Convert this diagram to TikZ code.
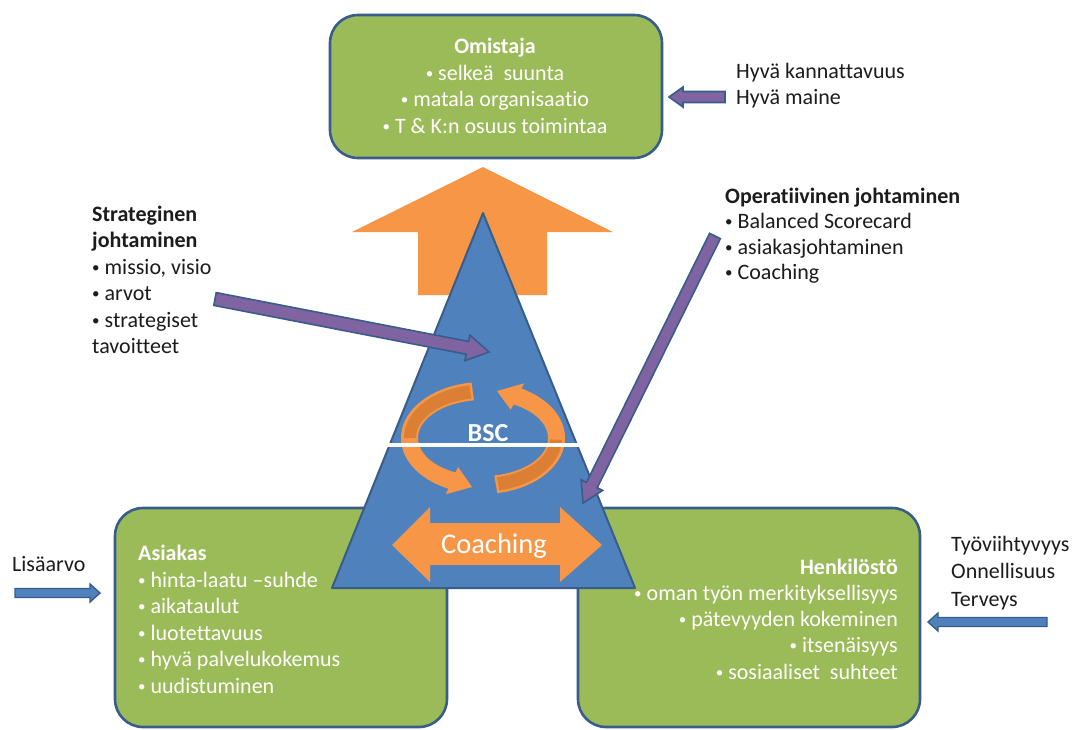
\documentclass[tikz,border=0pt]{standalone}
\usepackage{fontspec}
\setmainfont{Carlito}[Ligatures=NoCommon]
\usetikzlibrary{calc}

\definecolor{boxgreen}{HTML}{9BBB59}
\definecolor{edgeblue}{HTML}{385D8A}
\definecolor{triblue}{HTML}{4F81BD}
\definecolor{orng}{HTML}{F79646}
\definecolor{orngdark}{HTML}{DB7F35}
\definecolor{purp}{HTML}{8064A2}
\definecolor{ink}{HTML}{1C1C1C}

% small list bullet followed by a space
\newcommand\bl{\raisebox{1.8pt}{\fontsize{15}{15}\selectfont •}\space}

% block arrow from tail #2 to tip #3: half shaft width #4, half head width #5, head length #6
\newcommand\blockarrow[6]{%
  \coordinate (#2-hb) at ($(#3)!#6!(#2)$);
  \draw[#1] ($(#2)!#4!90:(#3)$) -- ($(#2-hb)!#4!90:(#3)$) -- ($(#2-hb)!#5!90:(#3)$)
    -- (#3) -- ($(#2-hb)!#5!-90:(#3)$) -- ($(#2-hb)!#4!-90:(#3)$)
    -- ($(#2)!#4!-90:(#3)$) -- cycle;
}

\begin{document}
\begin{tikzpicture}[x=1pt,y=-1pt,
  greenbox/.style={draw=edgeblue, fill=boxgreen, line width=2.6pt, rounded corners=28pt, inner sep=0pt},
  outtext/.style={font=\fontsize{22}{26.5}\selectfont, text=ink, align=left, inner sep=0pt},
  boxtext/.style={font=\fontsize{22}{26.5}\selectfont, text=white, inner sep=0pt},
  purplearrow/.style={fill=purp, draw=edgeblue, line width=1.6pt, line join=miter},
  bluearrow/.style={fill=triblue, draw=edgeblue, line width=1.4pt, line join=miter},
]
\useasboundingbox (0,0) rectangle (1076,729);
\fill[white] (0,0) rectangle (1076,729);

% big orange arrow pointing up to the owner
\fill[orng] (483,167) -- (613,232) -- (547,232) -- (547,295) -- (418,295) -- (418,232) -- (352,232) -- cycle;

% the three stakeholder boxes
\node[greenbox, minimum width=332pt, minimum height=143pt] (owner) at (496,86.5) {};
\node[greenbox, minimum width=332pt, minimum height=219pt] (client) at (281,617.5) {};
\node[greenbox, minimum width=342pt, minimum height=219pt] (staff) at (749,617.5) {};

% management pyramid
\draw[fill=triblue, draw=edgeblue, line width=2pt, line join=round] (483,213) -- (635,588) -- (332,588) -- cycle;

% BSC cycle arrows
\fill[orng] plot[domain=262:115, samples=50, variable=\t] ({483+82*cos(\t)},{438+56*sin(\t)})
  -- ({483+88*cos(115)},{438+62*sin(115)}) -- (472,487) -- ({483+59*cos(115)},{438+32*sin(115)})
  -- plot[domain=115:262, samples=50, variable=\t] ({483+65*cos(\t)},{438+38*sin(\t)}) -- cycle;
\fill[orng] plot[domain=80:-62, samples=50, variable=\t] ({483+82*cos(\t)},{438+56*sin(\t)})
  -- ({483+88*cos(-62)},{438+62*sin(-62)}) -- (497,391) -- ({483+59*cos(-62)},{438+32*sin(-62)})
  -- plot[domain=-62:80, samples=50, variable=\t] ({483+65*cos(\t)},{438+38*sin(\t)}) -- cycle;
\fill[orngdark] plot[domain=260:180, samples=40, variable=\t] ({483+79*cos(\t)},{438+53.5*sin(\t)})
  -- plot[domain=180:260, samples=40, variable=\t] ({483+67*cos(\t)},{438+40*sin(\t)}) -- cycle;
\fill[orngdark] plot[domain=78:2, samples=40, variable=\t] ({483+79*cos(\t)},{438+53.5*sin(\t)})
  -- plot[domain=2:78, samples=40, variable=\t] ({483+67*cos(\t)},{438+40*sin(\t)}) -- cycle;

% dividing line and label
\coordinate (bsc-l) at (387,445);
\coordinate (bsc-r) at (579,445);
\draw[white, line width=3.5pt] (bsc-l) -- (bsc-r);
\node[font=\fontsize{26}{30}\selectfont\bfseries, text=white, inner sep=0pt] (bsc) at (488,433.5) {BSC};

% coaching double arrow
\fill[orng] (392,545) -- (430,507) -- (430,523) -- (560,523) -- (560,507) -- (602,545)
  -- (560,582) -- (560,565) -- (430,565) -- (430,582) -- cycle;
\node[font=\fontsize{28.5}{32}\selectfont, text=white, inner sep=0pt, anchor=base] (coach) at (494,553) {Coaching};

% texts inside the boxes (base anchor = baseline of the last line)
\node[boxtext, anchor=base, align=center] (owner-text) at (495,133)
  {\textbf{Omistaja}\\\bl selkeä\hspace{0.45em}suunta\\\bl matala organisaatio\\\bl T \& K:n osuus toimintaa};
\node[boxtext, anchor=base west, align=left] (client-text) at (138,693)
  {\textbf{Asiakas}\\\bl hinta-laatu –suhde\\\bl aikataulut\\\bl luotettavuus\\\bl hyvä palvelukokemus\\\bl uudistuminen};
\node[boxtext, anchor=base east, align=right, font=\fontsize{22}{26.25}\selectfont] (staff-text) at (898,679)
  {\textbf{Henkilöstö}\\\bl oman työn merkityksellisyys\\\bl pätevyyden kokeminen\\\bl itsenäisyys\\\bl sosiaaliset\hspace{0.45em}suhteet};

% texts outside
\node[outtext, anchor=base west, font=\fontsize{22}{26}\selectfont] (gain) at (736,104)
  {Hyvä kannattavuus\\Hyvä maine};
\node[outtext, anchor=base west] (strat) at (92,353.5)
  {\textbf{Strateginen}\\\textbf{johtaminen}\\\bl missio, visio\\\bl arvot\\\bl strategiset\\tavoitteet};
\node[outtext, anchor=base west, font=\fontsize{22}{25.5}\selectfont] (oper) at (725,279.5)
  {\textbf{Operatiivinen johtaminen}\\\bl Balanced Scorecard\\\bl asiakasjohtaminen\\\bl Coaching};
\node[outtext, anchor=base west, font=\fontsize{22}{27.5}\selectfont] (wellbeing) at (951,606)
  {Työviihtyvyys\\Onnellisuus\\Terveys};
\node[outtext, anchor=base west] (value) at (12,571) {Lisäarvo};

% management arrows into the pyramid
\coordinate (strat-tail) at (215,299);
\coordinate (strat-tip) at (489,352);
\blockarrow{purplearrow}{strat-tail}{strat-tip}{6.5pt}{13pt}{22pt}
\coordinate (oper-tail) at (715,236);
\coordinate (oper-tip) at (583,503);
\blockarrow{purplearrow}{oper-tail}{oper-tip}{6pt}{12pt}{20pt}

% small arrows from the side texts
\coordinate (gain-tail) at (725,97);
\coordinate (gain-tip) at (669,97);
\blockarrow{purplearrow}{gain-tail}{gain-tip}{5.5pt}{10pt}{14pt}
\coordinate (value-tail) at (15,593);
\coordinate (value-tip) at (100,593);
\blockarrow{bluearrow}{value-tail}{value-tip}{4.5pt}{9pt}{10pt}
\coordinate (well-tail) at (1047,622);
\coordinate (well-tip) at (928,622);
\blockarrow{bluearrow}{well-tail}{well-tip}{4.5pt}{9pt}{10pt}
\end{tikzpicture}
\end{document}
